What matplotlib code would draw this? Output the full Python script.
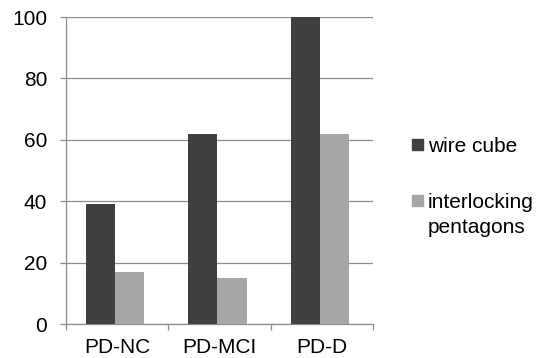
import numpy as np
import matplotlib
matplotlib.use("Agg")
import matplotlib.pyplot as plt
from matplotlib.patches import Rectangle

categories = ["PD-NC", "PD-MCI", "PD-D"]
wire_cube = [39, 62, 100]
pentagons = [17, 15, 62]
series_names = ["wire cube", "interlocking\npentagons"]
series_colors = ["#404040", "#a6a6a6"]

plt.rcParams["font.family"] = ["Liberation Sans", "DejaVu Sans"]
FS = 15
W, H = 545, 358

fig = plt.figure(figsize=(W / 100, H / 100), dpi=100)
ax = fig.add_axes([66 / W, 34 / H, 307 / W, 307 / H])

x = np.arange(len(categories))
w = 0.285
ax.bar(x - w / 2 - 0.02, wire_cube, w, color=series_colors[0], zorder=3)
ax.bar(x + w / 2 - 0.02, pentagons, w, color=series_colors[1], zorder=3)

ax.set_xlim(-0.5, len(categories) - 0.5)
ax.set_ylim(0, 100)
ax.set_yticks(range(0, 101, 20))
ax.yaxis.grid(True, color="#8c8c8c", linewidth=0.9, zorder=0)

ax.set_xticks(x)
ax.set_xticklabels(categories, fontsize=FS)
ax.tick_params(axis="x", length=0, pad=10)
ax.set_xticks(np.arange(-0.5, len(categories)), minor=True)
ax.tick_params(axis="x", which="minor", length=4.5, color="#8c8c8c", width=0.9)
ax.tick_params(axis="y", length=4.5, color="#8c8c8c", width=0.9, labelsize=FS, pad=9)

for s in ["top", "right"]:
    ax.spines[s].set_visible(False)
for s in ["left", "bottom"]:
    ax.spines[s].set_color("#8c8c8c")
    ax.spines[s].set_linewidth(0.9)

# legend drawn by hand: marker sits on the first line of a wrapped label
entry_tops = [139, 195]
for top, name, col in zip(entry_tops, series_names, series_colors):
    fig.patches.append(Rectangle((412 / W, 1 - (top + 11) / H), 11 / W, 11 / H,
                                 transform=fig.transFigure, color=col))
    for i, line in enumerate(name.split("\n")):
        fig.text(428 / W, 1 - (top + 13 + 25 * i) / H, line, fontsize=FS, va="baseline", ha="left")

fig.savefig("out.png", dpi=100)
